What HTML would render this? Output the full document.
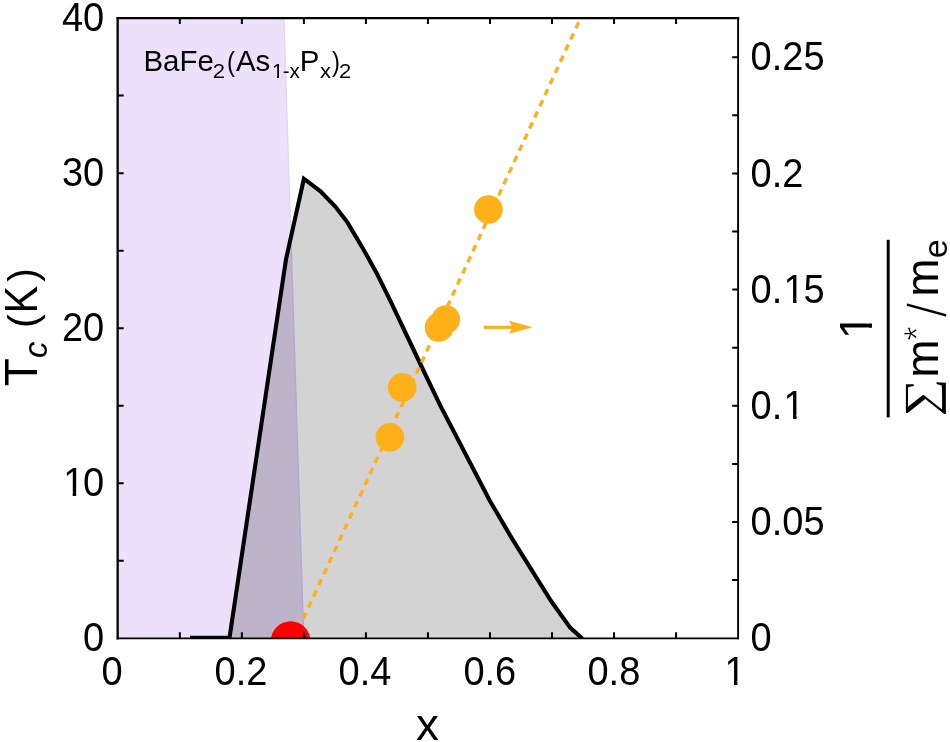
<!DOCTYPE html>
<html lang="en"><head><meta charset="utf-8"><title>BaFe2(As1-xPx)2 phase diagram</title>
<style>html,body{margin:0;padding:0;background:#fff;}body{width:950px;height:742px;overflow:hidden;}svg{display:block;}text{font-family:"Liberation Sans",sans-serif;fill:#000;}</style></head><body>
<svg width="950" height="742" viewBox="0 0 950 742">
<rect x="0" y="0" width="950" height="742" fill="#ffffff"/>
<defs><clipPath id="plot"><rect x="117.8" y="18.1" width="620.3000000000001" height="620.1"/></clipPath>
<clipPath id="dome"><polygon points="190,637.8 229.5,637.8 286.0,259.3 303.9,178.7 320.5,191.3 335.3,206.6 347.6,222.6 364.05,250.4 376.7,273.2 389.9,299.9 423.2,370 440.2,405.4 489.7,500.5 512.8,539.9 551.75,602 570.35,627.85 582.4,638.6"/></clipPath></defs>
<polygon points="117.8,18.1 283.9,18.1 303.7,638.2 117.8,638.2" fill="#ece0fa"/>
<line x1="283.9" y1="18.1" x2="303.7" y2="638.2" stroke="#ddd4f8" stroke-width="1.2"/>
<polygon points="190,637.8 229.5,637.8 286.0,259.3 303.9,178.7 320.5,191.3 335.3,206.6 347.6,222.6 364.05,250.4 376.7,273.2 389.9,299.9 423.2,370 440.2,405.4 489.7,500.5 512.8,539.9 551.75,602 570.35,627.85 582.4,638.6" fill="#d3d3d3"/>
<g clip-path="url(#dome)"><polygon points="117.8,18.1 283.9,18.1 303.7,638.2 117.8,638.2" fill="#bdb4ca"/><line x1="283.9" y1="18.1" x2="303.7" y2="638.2" stroke="#b3a8d4" stroke-width="1.4"/></g>
<g clip-path="url(#plot)"><polyline points="190,637.8 229.5,637.8 286.0,259.3 303.9,178.7 320.5,191.3 335.3,206.6 347.6,222.6 364.05,250.4 376.7,273.2 389.9,299.9 423.2,370 440.2,405.4 489.7,500.5 512.8,539.9 551.75,602 570.35,627.85 582.4,638.6" fill="none" stroke="#000" stroke-width="4.1" stroke-linejoin="miter" stroke-miterlimit="10"/></g>
<line x1="303.2" y1="618.7" x2="578.6" y2="22.3" stroke="#feb118" stroke-width="3.4" stroke-dasharray="6.6 5.67"/>
<circle cx="389.9" cy="437.3" r="14.3" fill="#feb118"/>
<circle cx="402.2" cy="387.3" r="14.3" fill="#feb118"/>
<circle cx="439.0" cy="327.4" r="14.3" fill="#feb118"/>
<circle cx="445.8" cy="319.5" r="14.3" fill="#feb118"/>
<circle cx="488.4" cy="209.5" r="14.3" fill="#feb118"/>
<line x1="483.8" y1="327.3" x2="515" y2="327.3" stroke="#feb118" stroke-width="3.2"/>
<polygon points="532.8,327.3 509,320.8 512.5,327.3 509,333.8" fill="#feb118"/>
<g clip-path="url(#plot)"><circle cx="290.6" cy="640.9" r="19.7" fill="#ff0000"/></g>
<g stroke="#000" fill="none" stroke-linecap="square"><line x1="117.65" y1="18.15" x2="738.1" y2="18.15" stroke-width="2.3"/><line x1="117.65" y1="18.15" x2="117.65" y2="638.3" stroke-width="2.3"/><line x1="738.1" y1="18.15" x2="738.1" y2="638.3" stroke-width="1.9"/><line x1="117.65" y1="638.3" x2="738.1" y2="638.3" stroke-width="1.8"/></g>
<path d="M179.83,638.2v-5.9 M179.83,18.1v5.9 M241.86,638.2v-5.9 M241.86,18.1v5.9 M303.89,638.2v-5.9 M303.89,18.1v5.9 M365.92,638.2v-5.9 M365.92,18.1v5.9 M427.95,638.2v-5.9 M427.95,18.1v5.9 M489.98,638.2v-5.9 M489.98,18.1v5.9 M552.01,638.2v-5.9 M552.01,18.1v5.9 M614.04,638.2v-5.9 M614.04,18.1v5.9 M676.07,638.2v-5.9 M676.07,18.1v5.9 M117.8,560.69h5.9 M117.8,483.18h5.9 M117.8,405.66h5.9 M117.8,328.15h5.9 M117.8,250.64h5.9 M117.8,173.13h5.9 M117.8,95.61h5.9 M738.1,580.10h-5.9 M738.1,522.00h-5.9 M738.1,463.90h-5.9 M738.1,405.80h-5.9 M738.1,347.70h-5.9 M738.1,289.60h-5.9 M738.1,231.50h-5.9 M738.1,173.40h-5.9 M738.1,115.30h-5.9 M738.1,57.20h-5.9" stroke="#000" stroke-width="2" fill="none"/>
<text transform="translate(83.07,651.2) scale(0.955,1)" font-size="39.8">0</text>
<clipPath id="c1_1"><path clip-rule="evenodd" d="M-39.8,-47.76H84.05760000000001V19.9H-39.8Z M3.26,-4.18H11.29V3.98H3.26Z M14.89,-4.18H22.70V3.98H14.89Z"/></clipPath><text transform="translate(61.93,496.2) scale(0.955,1)" font-size="39.8" clip-path="url(#c1_1)"><tspan dx="1.32">1</tspan><tspan dx="-1.32">0</tspan></text>
<text transform="translate(61.93,341.2) scale(0.955,1)" font-size="39.8">20</text>
<text transform="translate(61.93,186.1) scale(0.955,1)" font-size="39.8">30</text>
<text transform="translate(61.93,31.1) scale(0.955,1)" font-size="39.8">40</text>
<text transform="translate(101.53,685) scale(0.955,1)" font-size="39.8">0</text>
<text transform="translate(214.58,685) scale(0.955,1)" font-size="39.8">0.2</text>
<text transform="translate(338.58,685) scale(0.955,1)" font-size="39.8">0.4</text>
<text transform="translate(463.38,685) scale(0.955,1)" font-size="39.8">0.6</text>
<text transform="translate(587.48,685) scale(0.955,1)" font-size="39.8">0.8</text>
<clipPath id="c1_2"><path clip-rule="evenodd" d="M-39.8,-47.76H63.250284375V19.9H-39.8Z M3.26,-4.18H11.29V3.98H3.26Z M14.89,-4.18H22.70V3.98H14.89Z"/></clipPath><text transform="translate(723.23,685) scale(0.955,1)" font-size="39.8" clip-path="url(#c1_2)"><tspan dx="1.32">1</tspan></text>
<text transform="translate(750.6,651.4) scale(0.955,1)" font-size="39.8">0</text>
<text transform="translate(750.6,535.2) scale(0.955,1)" font-size="39.8">0.05</text>
<clipPath id="c1_3"><path clip-rule="evenodd" d="M-39.8,-47.76H96.443484375V19.9H-39.8Z M36.46,-4.18H44.48V3.98H36.46Z M48.08,-4.18H55.89V3.98H48.08Z"/></clipPath><text transform="translate(750.6,419.0) scale(0.955,1)" font-size="39.8" clip-path="url(#c1_3)">0.<tspan dx="1.32">1</tspan></text>
<clipPath id="c1_4"><path clip-rule="evenodd" d="M-39.8,-47.76H117.2508V19.9H-39.8Z M36.46,-4.18H44.48V3.98H36.46Z M48.08,-4.18H55.89V3.98H48.08Z"/></clipPath><text transform="translate(750.6,302.8) scale(0.955,1)" font-size="39.8" clip-path="url(#c1_4)">0.<tspan dx="1.32">1</tspan><tspan dx="-1.32">5</tspan></text>
<text transform="translate(750.6,186.6) scale(0.955,1)" font-size="39.8">0.2</text>
<text transform="translate(750.6,70.4) scale(0.955,1)" font-size="39.8">0.25</text>
<text transform="translate(427.4,739.7) scale(1.02,1)" font-size="45" text-anchor="middle">x</text>
<g><text transform="translate(143.45,71.3) scale(1.025,1)" font-size="28.7">BaFe</text><text transform="translate(212.82,78.2) scale(1.07,1)" font-size="20.6">2</text><text transform="translate(227.02,71.25) scale(0.85,1)" font-size="28.2">(</text><text transform="translate(235.98,71.3) scale(1.025,1)" font-size="28.7">As</text><clipPath id="c1_5"><path clip-rule="evenodd" d="M-20.6,-24.720000000000002H49.21340000000001V10.3H-20.6Z M1.69,-2.16H5.84V2.06H1.69Z M7.70,-2.16H11.75V2.06H7.70Z"/></clipPath><text transform="translate(271.23,78.2) scale(1.0,1)" font-size="20.6" clip-path="url(#c1_5)"><tspan dx="0.68">1</tspan><tspan dx="-0.68">-</tspan>x</text><text transform="translate(299.65,71.3) scale(1.025,1)" font-size="28.7">P</text><text transform="translate(320.0,78.2) scale(1.07,1)" font-size="20.6">x</text><text transform="translate(332.12,71.25) scale(0.85,1)" font-size="28.2">)</text><text transform="translate(339.08,78.2) scale(1.07,1)" font-size="20.6">2</text></g>
<g><text transform="translate(37.05,386.3) rotate(-90)" font-size="46">T</text><text transform="translate(46.75,358.05) rotate(-90)" font-size="33" font-style="italic">c</text><text transform="translate(36.9,328.02) rotate(-90)" font-size="41"> (</text><text transform="translate(36.8,313.55) rotate(-90) scale(0.9,1)" font-size="46">K</text><text transform="translate(36.9,281.73) rotate(-90)" font-size="41">)</text></g>
<line x1="888.2" y1="239.8" x2="888.2" y2="417.4" stroke="#000" stroke-width="3"/>
<g><clipPath id="c1_6"><path clip-rule="evenodd" d="M-45.5,-54.6H72.3087421875V22.75H-45.5Z M3.73,-4.78H12.91V4.55H3.73Z M17.02,-4.78H25.95V4.55H17.02Z"/></clipPath><text transform="translate(871.9,340.6) rotate(-90)" font-size="45.5" clip-path="url(#c1_6)"><tspan dx="1.51">1</tspan></text><text transform="translate(935.88,416.62) rotate(-90) scale(1.155,1)" font-size="46" style='font-family:"Liberation Serif",serif'>∑</text><text transform="translate(937.78,377.68) rotate(-90)" font-size="46">m</text><text transform="translate(930.1,340.7) rotate(-90)" font-size="37" stroke="#fff" stroke-width="0.7">*</text><text transform="translate(945.97,317.65) rotate(-90)" font-size="56" stroke="#fff" stroke-width="1.7">/</text><text transform="translate(938.02,296.67) rotate(-90)" font-size="46">m</text><text transform="translate(947.1,258.27) rotate(-90)" font-size="34">e</text></g>
</svg></body></html>
